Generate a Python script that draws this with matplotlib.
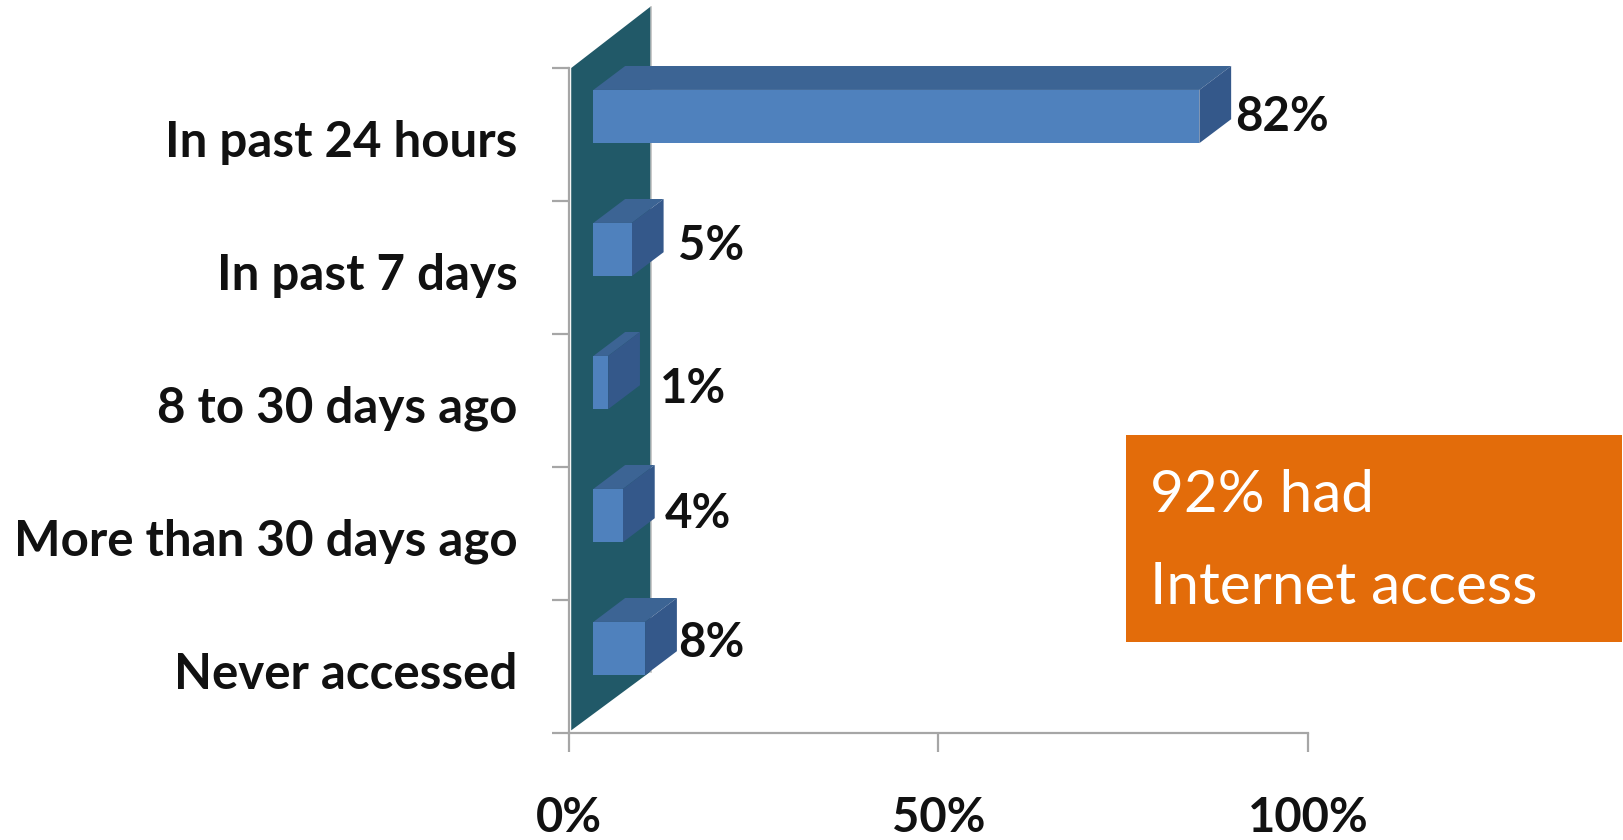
import matplotlib
matplotlib.use("Agg")
import matplotlib.pyplot as plt
from matplotlib.patches import Polygon, Rectangle

categories = ["In past 24 hours", "In past 7 days", "8 to 30 days ago",
              "More than 30 days ago", "Never accessed"]
value_labels = ["82%", "5%", "1%", "4%", "8%"]
bar_lengths = [82.0, 5.2, 2.0, 4.0, 7.0]  # drawn length
x_ticks = [0, 50, 100]
x_tick_labels = ["0%", "50%", "100%"]
box_lines = ["92% had", "Internet access"]

plt.rcParams["font.family"] = ["Lato", "DejaVu Sans"]

# kolory
front_col = "#4F81BD"
top_col = "#3C6494"
side_col = "#34588A"
wall_col = "#215968"
axis_col = "#A6A6A6"
text_col = "#111111"

fig = plt.figure(figsize=(16.24, 8.4), dpi=100)
ax = fig.add_axes([569 / 1624, 107 / 840, 739 / 1624, 665 / 840])
ax.set_xlim(0, 100)
ax.set_ylim(0, 5)

# depth of the fake 3D, in data units
dx = 4.3
dy = 0.18
start = 3.3
bar_h = 0.40
band_gap = 0.165
wall_w = 11.0
wall_dy = 0.46

# wall
ax.add_patch(Polygon([(0.3, 5), (wall_w, 5 + wall_dy), (wall_w, wall_dy), (0.3, 0.02)],
                     closed=True, fc=wall_col, ec="none", zorder=3, clip_on=False))
ax.plot([wall_w + 0.15, wall_w + 0.15], [wall_dy, 5 + wall_dy], color="#BFBFBF", lw=1.2,
        zorder=2.5, clip_on=False)

# bars, top one first
label_dx = [4, 14, 20, 10, 1]  # pixels after the back edge
label_dy = [3, -1, 9, 1, -3]
for i, (length, lab) in enumerate(zip(bar_lengths, value_labels)):
    top = 5 - i - band_gap
    bot = top - bar_h
    right = start + length
    ax.add_patch(Polygon([(start, top), (start + dx, top + dy), (right + dx, top + dy), (right, top)],
                         closed=True, fc=top_col, ec="none", zorder=4, clip_on=False))
    ax.add_patch(Polygon([(right, top), (right + dx, top + dy), (right + dx, bot + dy), (right, bot)],
                         closed=True, fc=side_col, ec="none", zorder=4, clip_on=False))
    ax.add_patch(Rectangle((start, bot), length, bar_h, fc=front_col, ec="none", zorder=5,
                           clip_on=False))
    ax.annotate(lab, xy=(right + dx, top + dy - 0.36), xytext=(label_dx[i] * 0.72, -label_dy[i] * 0.72),
                textcoords="offset points", fontsize=34, fontweight="bold", color=text_col,
                ha="left", va="center", zorder=6)

# axes
for s in ["top", "right"]:
    ax.spines[s].set_visible(False)
for s in ["left", "bottom"]:
    ax.spines[s].set_color(axis_col)
    ax.spines[s].set_linewidth(1.6)

ax.set_xticks(x_ticks)
ax.set_xticklabels(x_tick_labels, fontsize=34, fontweight="bold", color=text_col)
ax.tick_params(axis="x", length=13.5, width=1.6, color=axis_col, pad=32)
ax.set_yticks(range(6))
ax.set_yticklabels([])
ax.tick_params(axis="y", which="major", length=12.5, width=1.6, color=axis_col)
ax.set_yticks([4.47, 3.47, 2.47, 1.47, 0.47], minor=True)
ax.set_yticklabels(categories, minor=True, fontsize=35.5, fontweight="bold", color=text_col)
ax.tick_params(axis="y", which="minor", length=0, pad=37)

# orange box
fig.patches.append(Rectangle((1126 / 1624, 198 / 840), 496 / 1624, 207 / 840, transform=fig.transFigure,
                             fc="#E36C0A", ec="none"))
fig.text(1150 / 1624, (840 - 495) / 840, box_lines[0], fontsize=42, color="white", va="center")
fig.text(1150 / 1624, (840 - 588) / 840, box_lines[1], fontsize=42, color="white", va="center")

fig.savefig("out.png", dpi=100)
